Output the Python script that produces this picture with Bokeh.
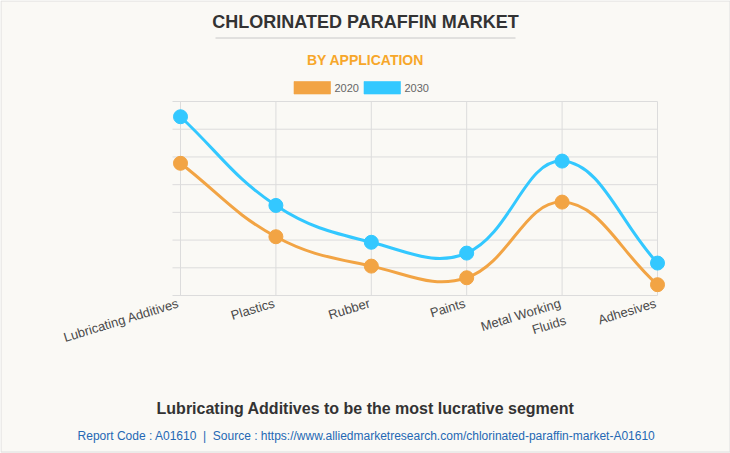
import math
from bokeh.plotting import figure
from bokeh.models import Range1d, Label
from bokeh.embed import file_html
from bokeh.resources import INLINE
from bokeh.core.properties import value

# ---------------- data ----------------
categories = ["Lubricating Additives", "Plastics", "Rubber", "Paints",
              "Metal Working\nFluids", "Adhesives"]
values_2020 = [4.77, 2.12, 1.06, 0.64, 3.37, 0.39]
values_2030 = [6.45, 3.25, 1.92, 1.53, 4.85, 1.17]
y_ticks = [0, 1, 2, 3, 4, 5, 6, 7]
series_names = ["2020", "2030"]
series_colors = ["#F2A444", "#33C8FF"]

title_text = "CHLORINATED PARAFFIN MARKET"
subtitle_text = "BY APPLICATION"
caption_text = "Lubricating Additives to be the most lucrative segment"
footer_text = ("Report Code : A01610 \u00a0|\u00a0 Source : "
               "https://www.alliedmarketresearch.com/chlorinated-paraffin-market-A01610")

# ---------------- layout helpers ----------------
W, H = 730, 453
X0, DX = 180.0, 95.4          # pixel of first category, pixel step
Y0, DY = 295.0, 194.0 / 7.0   # pixel of value 0, pixels per unit
BG = "#FAF9F5"
FONT = "Liberation Sans"


def px2x(px):
    return (px - X0) / DX


def px2y(py):
    return (Y0 - py) / DY


p = figure(width=W, height=H,
           x_range=Range1d(px2x(0), px2x(W)),
           y_range=Range1d(px2y(H), px2y(0)),
           output_backend="svg", toolbar_location=None,
           min_border=0, background_fill_color=BG, border_fill_color=BG,
           outline_line_color=None)
p.axis.visible = False
p.grid.visible = False

n = len(categories)
xs = list(range(n))

# page border
p.quad(left=[px2x(0.5)], right=[px2x(729.5)], top=[px2y(0.5)], bottom=[px2y(451.5)],
       fill_alpha=0, line_color="#DEDEDE", line_width=1)

# grid lines
p.segment(x0=[px2x(172)] * len(y_ticks), y0=y_ticks, x1=[n - 1] * len(y_ticks), y1=y_ticks,
          line_color="#DCDCDC", line_width=1)
p.segment(x0=xs, y0=[y_ticks[0]] * n, x1=xs, y1=[y_ticks[-1]] * n,
          line_color="#DCDCDC", line_width=1)


def spline(vals, tension=0.4):
    pxs = [X0 + DX * i for i in range(len(vals))]
    pys = [Y0 - DY * v for v in vals]
    m = len(vals)
    prev_cp, next_cp = [], []
    for i in range(m):
        a = max(i - 1, 0)
        b = min(i + 1, m - 1)
        d01 = math.hypot(pxs[i] - pxs[a], pys[i] - pys[a])
        d12 = math.hypot(pxs[b] - pxs[i], pys[b] - pys[i])
        tot = d01 + d12
        s01 = d01 / tot if tot else 0
        s12 = d12 / tot if tot else 0
        fa, fb = tension * s01, tension * s12
        prev_cp.append((pxs[i] - fa * (pxs[b] - pxs[a]), pys[i] - fa * (pys[b] - pys[a])))
        next_cp.append((pxs[i] + fb * (pxs[b] - pxs[a]), pys[i] + fb * (pys[b] - pys[a])))
    out = dict(x0=[], y0=[], x1=[], y1=[], cx0=[], cy0=[], cx1=[], cy1=[])
    for i in range(m - 1):
        out["x0"].append(i)
        out["y0"].append(vals[i])
        out["x1"].append(i + 1)
        out["y1"].append(vals[i + 1])
        out["cx0"].append(px2x(next_cp[i][0]))
        out["cy0"].append(px2y(next_cp[i][1]))
        out["cx1"].append(px2x(prev_cp[i + 1][0]))
        out["cy1"].append(px2y(prev_cp[i + 1][1]))
    return out


for vals, col in zip([values_2020, values_2030], series_colors):
    seg = spline(vals)
    p.bezier(line_color=col, line_width=3, **seg)
    p.scatter(xs, vals, size=14, color=col)

# category labels
p.text(x=xs, y=[y_ticks[0]] * n, text=categories, angle=math.radians(17),
       text_align="right", text_baseline="top", x_offset=-4, y_offset=0,
       text_font=value(FONT), text_font_size="13px", text_color="#4A4A4A",
       text_line_height=1.2)

# titles
p.add_layout(Label(x=px2x(365), y=px2y(21), text=title_text, text_align="center",
                   text_baseline="middle", text_font=FONT, text_font_size="18px",
                   text_font_style="bold", text_color="#333333"))
p.segment(x0=[px2x(215)], y0=[px2y(37.5)], x1=[px2x(515)], y1=[px2y(37.5)],
          line_color="#C8C8C8", line_width=1)
p.add_layout(Label(x=px2x(365), y=px2y(59), text=subtitle_text, text_align="center",
                   text_baseline="middle", text_font=FONT, text_font_size="14px",
                   text_font_style="bold", text_color="#F7A72A"))

# legend
box_left = [293.5, 363.5]
for name, col, bl in zip(series_names, series_colors, box_left):
    p.quad(left=[px2x(bl)], right=[px2x(bl + 36.5)], top=[px2y(81)], bottom=[px2y(93.5)],
           fill_color=col, line_color=col, line_alpha=0.6)
    p.add_layout(Label(x=px2x(bl + 40.5), y=px2y(87.5), text=name, text_align="left",
                       text_baseline="middle", text_font=FONT, text_font_size="11px",
                       text_color="#666666"))

# caption and footer
p.add_layout(Label(x=px2x(365), y=px2y(408), text=caption_text, text_align="center",
                   text_baseline="middle", text_font=FONT, text_font_size="16px",
                   text_font_style="bold", text_color="#333333"))
p.add_layout(Label(x=px2x(366), y=px2y(435), text=footer_text, text_align="center",
                   text_baseline="middle", text_font=FONT, text_font_size="12px",
                   text_color="#2468B4"))

open("out.html", "w").write(file_html(p, INLINE))
